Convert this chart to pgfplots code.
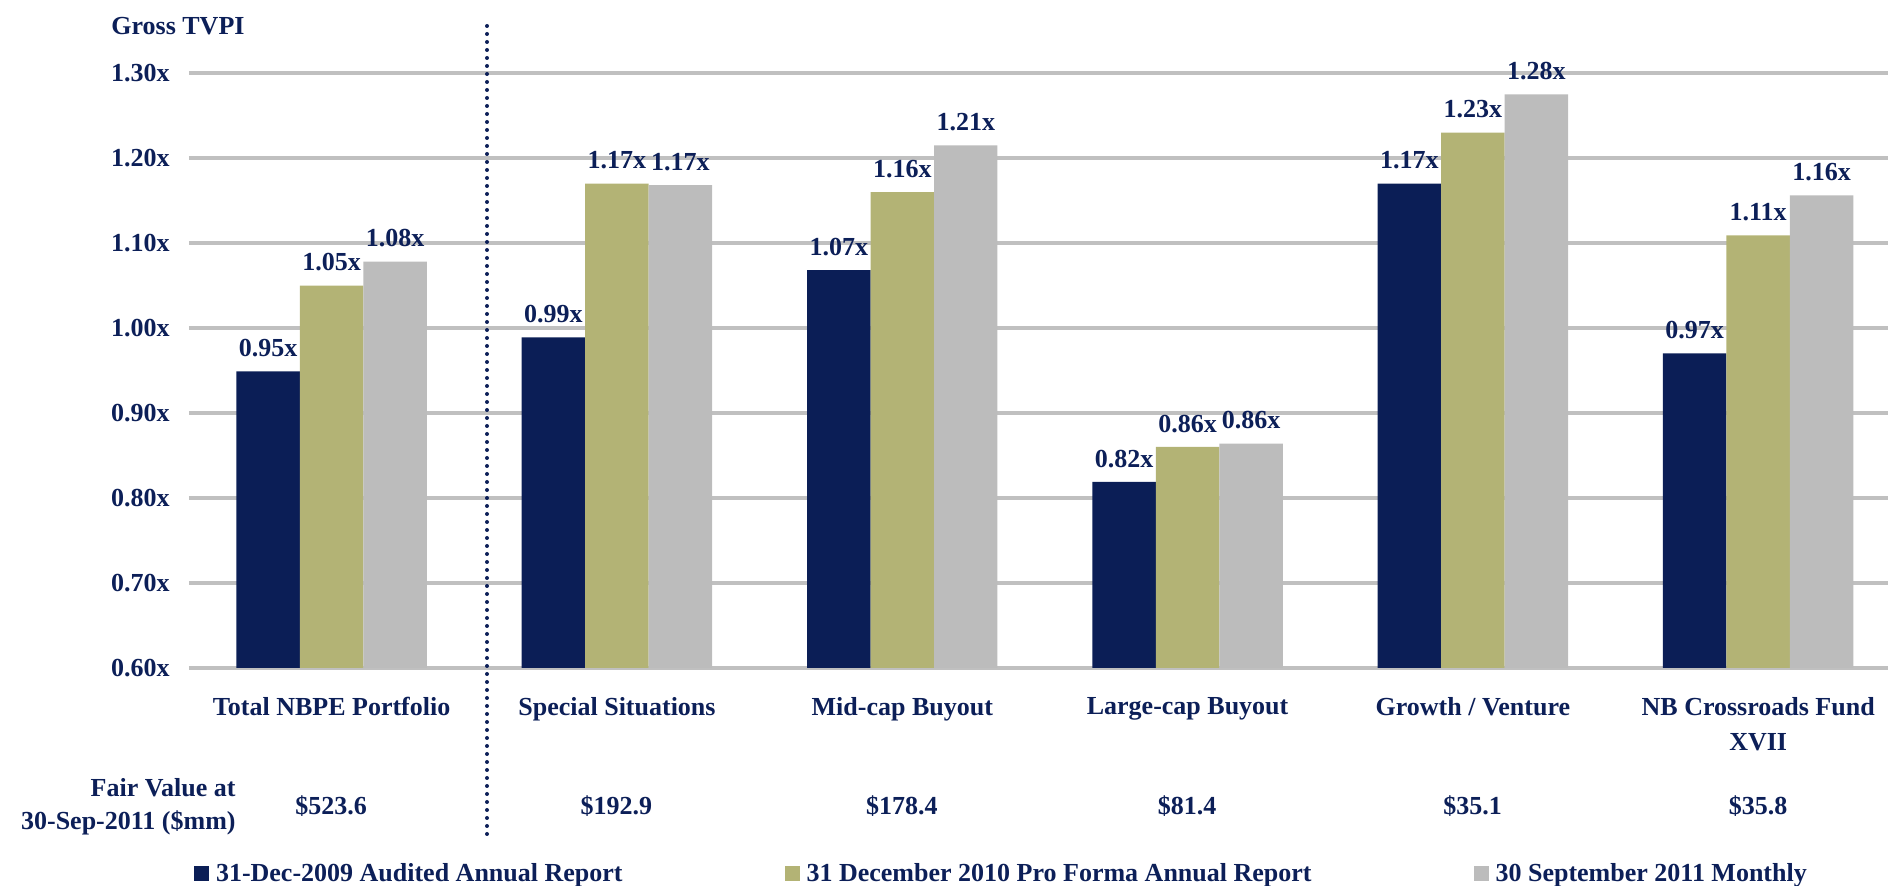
\documentclass[border=0pt]{standalone}
\usepackage{fontspec}
\setmainfont{Liberation Serif}
\usepackage{pgfplots}
\pgfplotsset{compat=1.18}
\usepackage{pgfplotstable}
\definecolor{cNavy}{RGB}{11,30,86}
\definecolor{cText}{RGB}{12,31,88}
\definecolor{cOlive}{RGB}{179,179,117}
\definecolor{cGray}{RGB}{188,188,188}
\definecolor{cGrid}{RGB}{192,192,192}

\pgfplotstableread{
x y lab
0 0.949 0.95x
1 0.989 0.99x
2 1.068 1.07x
3 0.819 0.82x
4 1.170 1.17x
5 0.970 0.97x
}\dataA
\pgfplotstableread{
x y lab
0 1.050 1.05x
1 1.170 1.17x
2 1.160 1.16x
3 0.860 0.86x
4 1.230 1.23x
5 1.109 1.11x
}\dataB
\pgfplotstableread{
x y lab
0 1.078 1.08x
1 1.168 1.17x
2 1.215 1.21x
3 0.864 0.86x
4 1.275 1.28x
5 1.156 1.16x
}\dataC

\pgfplotsset{sqlegend/.style={legend image code/.code={\fill[##1] (0pt,-3.75pt) rectangle (7.5pt,3.75pt);}}}

\begin{document}
\begin{tikzpicture}[every node/.append style={font=\fontsize{13}{17.5}\selectfont\bfseries, text=cText}]
\begin{axis}[
  at={(0,0)}, anchor=south west,
  scale only axis, width=849.5pt, height=323pt,
  xmin=-0.5, xmax=5.455, ymin=0.6, ymax=1.36,
  axis line style={draw=none},
  major tick length=0pt,
  ytick={0.6,0.7,0.8,0.9,1.0,1.1,1.2,1.3},
  yticklabels={0.60x,0.70x,0.80x,0.90x,1.00x,1.10x,1.20x,1.30x},
  yticklabel style={anchor=east, inner sep=0pt, xshift=-9.5pt},
  ymajorgrids, major grid style={line width=2pt, draw=cGrid},
  xtick={0,1,2,3,4,5},
  xticklabels={Total NBPE Portfolio, Special Situations, Mid-cap Buyout, Large-cap Buyout, Growth / Venture, {NB Crossroads Fund\\XVII}},
  xticklabel style={align=center, anchor=north, inner sep=0pt, yshift=-14.6pt},
  ybar=0pt, bar width=0.2225,
  nodes near coords, point meta=explicit symbolic,
  every node near coord/.append style={inner sep=0pt, yshift=7pt},
  legend columns=3,
  legend cell align=left,
  legend style={at={(0.00294,-0.3189)}, anchor=west, draw=none, fill=none,
    inner sep=0pt, outer sep=0pt, nodes={inner sep=0pt},
    /tikz/every odd column/.style={column sep=3.5pt},
    /tikz/every even column/.style={column sep=81pt}},
]
\addplot[draw=none, fill=cNavy, bar shift=-0.2225, sqlegend] table[x=x, y=y, meta=lab] {\dataA};
\addlegendentry{31-Dec-2009 Audited Annual Report}
\addplot[draw=none, fill=cOlive, bar shift=0, sqlegend] table[x=x, y=y, meta=lab] {\dataB};
\addlegendentry{31 December 2010 Pro Forma Annual Report}
\addplot[draw=none, fill=cGray, bar shift=0.2225, sqlegend] table[x=x, y=y, meta=lab] {\dataC};
\addlegendentry{30 September 2011 Monthly}
\end{axis}
\begin{scope}[every node/.append style={inner sep=0pt}]
\node[anchor=base west] at (-39pt,316.5pt) {Gross TVPI};
\node[anchor=base east] at (23.5pt,-64.5pt) {Fair Value at};
\node[anchor=base east] at (23.5pt,-81pt) {30-Sep-2011 (\$mm)};
\node[anchor=base] at (71pt,-73.5pt) {\$523.6};
\node[anchor=base] at (213.7pt,-73.5pt) {\$192.9};
\node[anchor=base] at (356.4pt,-73.5pt) {\$178.4};
\node[anchor=base] at (499.1pt,-73.5pt) {\$81.4};
\node[anchor=base] at (641.8pt,-73.5pt) {\$35.1};
\node[anchor=base] at (784.5pt,-73.5pt) {\$35.8};
\end{scope}
\draw[cText, line width=2pt, line cap=round, dash pattern=on 0pt off 4pt] (149pt,321pt) -- (149pt,-83.5pt);
\pgfresetboundingbox
\useasboundingbox (-94.5pt,-109pt) rectangle (849.5pt,334pt);
\end{tikzpicture}
\end{document}
